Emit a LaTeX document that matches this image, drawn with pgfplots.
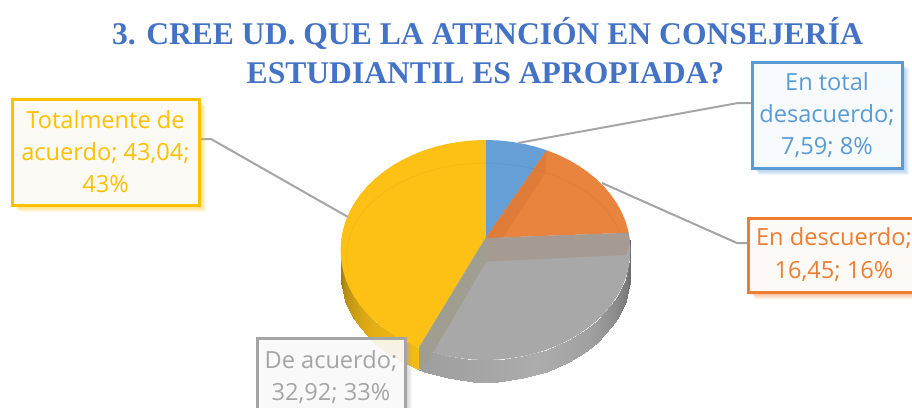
\documentclass[border=0pt]{standalone}
\usepackage{pgfplots}
\pgfplotsset{compat=1.18}
\usepackage{fontspec}
\setmainfont{Open Sans}
\newfontfamily\titlefont{Liberation Serif}
\definecolor{tblue}{HTML}{4472C4}
\definecolor{cblue}{HTML}{5B9BD5}
\definecolor{corange}{HTML}{ED7D31}
\definecolor{cgray}{HTML}{A5A5A5}
\definecolor{cyellow}{HTML}{FFC000}
\begin{document}
\begin{tikzpicture}
\clip (0,0) rectangle (912pt,407pt);
\begin{axis}[
  at={(0,0)},anchor=south west,
  scale only axis,width=912pt,height=407pt,
  xmin=0,xmax=912,ymin=0,ymax=407,y dir=reverse,
  axis lines=none,clip=false,
  point meta min=0,point meta max=1,
  colormap={gside}{rgb255(0cm)=(95,95,95) rgb255(2cm)=(130,130,130) rgb255(4cm)=(160,160,160) rgb255(6cm)=(172,172,172) rgb255(10cm)=(158,158,158)},
  colormap={yside}{rgb255(0cm)=(245,188,20) rgb255(4cm)=(226,174,20) rgb255(8cm)=(178,140,18) rgb255(10cm)=(140,112,18)},
]
% side walls
\addplot[surf,shader=interp,mesh/rows=2,mesh/cols=26,colormap name=gside,point meta=explicit] table[meta=m]{
x y m
629.9 240.4 0
630.5 250 .04
629.9 259.6 .08
628.3 269.1 .12
625.6 278.5 .16
621.8 287.6 .20
616.9 296.5 .25
611.1 305 .29
604.3 313.1 .33
596.6 320.7 .37
588 327.8 .41
578.7 334.3 .45
568.7 340.1 .49
558 345.3 .53
546.8 349.7 .57
535.1 353.4 .61
523 356.3 .65
510.7 358.3 .69
498.1 359.6 .74
485.5 360 .78
472.9 359.6 .82
460.3 358.3 .86
448 356.3 .90
435.9 353.4 .94
424.2 349.7 .98
419 347.7 1
629.9 262.4 0
630.5 272 .04
629.9 281.6 .08
628.3 291.1 .12
625.6 300.5 .16
621.8 309.6 .20
616.9 318.5 .25
611.1 327 .29
604.3 335.1 .33
596.6 342.7 .37
588 349.8 .41
578.7 356.3 .45
568.7 362.1 .49
558 367.3 .53
546.8 371.7 .57
535.1 375.4 .61
523 378.3 .65
510.7 380.3 .69
498.1 381.6 .74
485.5 382 .78
472.9 381.6 .82
460.3 380.3 .86
448 378.3 .90
435.9 375.4 .94
424.2 371.7 .98
419 369.7 1
};
\addplot[surf,shader=interp,mesh/rows=2,mesh/cols=14,colormap name=yside,point meta=explicit] table[meta=m]{
x y m
419 347.7 0
413 345.3 .04
402.3 340.1 .12
392.3 334.3 .20
383 327.8 .28
374.4 320.7 .36
366.7 313.1 .44
359.9 305 .52
354.1 296.5 .60
349.2 287.6 .68
345.4 278.5 .76
342.7 269.1 .84
341.1 259.6 .92
340.5 250 1
419 369.7 0
413 367.3 .04
402.3 362.1 .12
392.3 356.3 .20
383 349.8 .28
374.4 342.7 .36
366.7 335.1 .44
359.9 327 .52
354.1 318.5 .60
349.2 309.6 .68
345.4 300.5 .76
342.7 291.1 .84
341.1 281.6 .92
340.5 272 1
};
% top faces
\addplot[draw=none,fill={rgb,255:red,253;green,193;blue,21}] coordinates {(485.5,238)(419,347.7)(413,345.3)(402.3,340.1)(392.3,334.3)(383,327.8)(374.4,320.7)(366.7,313.1)(359.9,305)(354.1,296.5)(349.2,287.6)(345.4,278.5)(342.7,269.1)(341.1,259.6)(340.5,250)(341.1,240.4)(342.7,230.9)(345.4,221.5)(349.2,212.4)(354.1,203.5)(359.9,195)(366.7,186.9)(374.4,179.3)(383,172.2)(392.3,165.7)(402.3,159.9)(413,154.7)(424.2,150.3)(435.9,146.6)(448,143.7)(460.3,141.7)(472.9,140.4)(485.5,140)} --cycle;
\addplot[draw=none,fill={rgb,255:red,168;green,168;blue,168}] coordinates {(485.5,238)(628.7,232.8)(629.9,240.4)(630.5,250)(629.9,259.6)(628.3,269.1)(625.6,278.5)(621.8,287.6)(616.9,296.5)(611.1,305)(604.3,313.1)(596.6,320.7)(588,327.8)(578.7,334.3)(568.7,340.1)(558,345.3)(546.8,349.7)(535.1,353.4)(523,356.3)(510.7,358.3)(498.1,359.6)(485.5,360)(472.9,359.6)(460.3,358.3)(448,356.3)(435.9,353.4)(424.2,349.7)(419,347.7)} --cycle;
\addplot[draw=none,fill={rgb,255:red,233;green,132;blue,62}] coordinates {(485.5,238)(546.8,150.3)(558,154.7)(568.7,159.9)(578.7,165.7)(588,172.2)(596.6,179.3)(604.3,186.9)(611.1,195)(616.9,203.5)(621.8,212.4)(625.6,221.5)(628.3,230.9)(628.7,232.8)} --cycle;
\addplot[draw=none,fill={rgb,255:red,101;green,159;blue,213}] coordinates {(485.5,238)(485.5,140)(498.1,140.4)(510.7,141.7)(523,143.7)(535.1,146.6)(546.8,150.3)} --cycle;
% inner walls seen through the faces
\addplot[draw=none,fill={rgb,255:red,224;green,124;blue,58}] coordinates {(485.5,238)(546.8,150.3)(545,173)(502.7,238)} --cycle;
\addplot[draw=none,fill={rgb,255:red,165;green,155;blue,147}] coordinates {(485.5,238)(628.7,232.8)(630,243)(626,255)(486,261.7)} --cycle;
\addplot[draw=none,fill={rgb,255:red,160;green,158;blue,144}] coordinates {(485.5,238)(486,261.7)(430,358)(419,369)(419,347.7)} --cycle;
% faint rim
\addplot[smooth,draw=black,draw opacity=.05,line width=.6pt] coordinates {(348.6,272.2)(346.5,256)(351.2,231.9)(365.1,209.5)(387.2,190.2)(416,175.5)(449.5,166.2)(485.5,163)(521.5,166.2)(544.2,171.7)};
\addplot[smooth,draw=black,draw opacity=.05,line width=.6pt] coordinates {(545,173)(555,175.5)(583.8,190.2)(605.9,209.5)(619.8,231.9)};
% leader lines
\addplot[draw=cgray,line width=2pt] coordinates {(199,139)(211,139)(348,217)};
\addplot[draw=cgray,line width=2pt] coordinates {(752,103)(738,103)(518,143)};
\addplot[draw=cgray,line width=2pt] coordinates {(748,243)(737,243)(602,183)};
% label boxes
\pgfplotsinvokeforeach{2,3,4,5,6,7}{
  \fill[cyellow,opacity=.10] (axis cs:{12+#1},{99+#1}) rectangle (axis cs:{199+#1},{205+#1});
  \fill[cblue,opacity=.10] (axis cs:{752+#1},{62+#1}) rectangle (axis cs:{902+#1},{168+#1});
  \fill[corange,opacity=.10] (axis cs:{748+#1},{218+#1}) rectangle (axis cs:{930+#1},{292+#1});
  \fill[cgray,opacity=.10] (axis cs:{257+#1},{338+#1}) rectangle (axis cs:{405+#1},{430+#1});
}
\draw[cyellow,line width=3pt,fill={rgb,255:red,252;green,250;blue,245}] (axis cs:12,99) rectangle (axis cs:199,205);
\draw[cblue,line width=3pt,fill={rgb,255:red,248;green,251;blue,254}] (axis cs:752,62) rectangle (axis cs:902,168);
\draw[corange,line width=3pt,fill={rgb,255:red,254;green,250;blue,247}] (axis cs:748,218) rectangle (axis cs:930,292);
\draw[cgray,line width=3pt,fill=white,fill opacity=.85] (axis cs:257,338) rectangle (axis cs:405,430);
\node[text=cyellow,align=center,font=\fontsize{23.6}{32}\selectfont] at (axis cs:105.5,152) {Totalmente de\\acuerdo; 43,04;\\43\%};
\node[text=cblue,align=center,font=\fontsize{23.6}{32}\selectfont] at (axis cs:827,115) {En total\\desacuerdo;\\7,59; 8\%};
\node[text=corange,align=center,font=\fontsize{23.6}{33}\selectfont] at (axis cs:834,255) {En descuerdo;\\16,45; 16\%};
\node[text=cgray,align=center,font=\fontsize{23.6}{32}\selectfont] at (axis cs:331,377) {De acuerdo;\\32,92; 33\%};
% title
\node[text=tblue,anchor=base,font=\titlefont\bfseries\fontsize{31.6}{36}\selectfont] at (axis cs:487.5,44) {3. CREE UD. QUE LA ATENCIÓN EN CONSEJERÍA};
\node[text=tblue,anchor=base,font=\titlefont\bfseries\fontsize{31.6}{36}\selectfont] at (axis cs:485.5,83) {ESTUDIANTIL ES APROPIADA?};
\end{axis}
\end{tikzpicture}
\end{document}
